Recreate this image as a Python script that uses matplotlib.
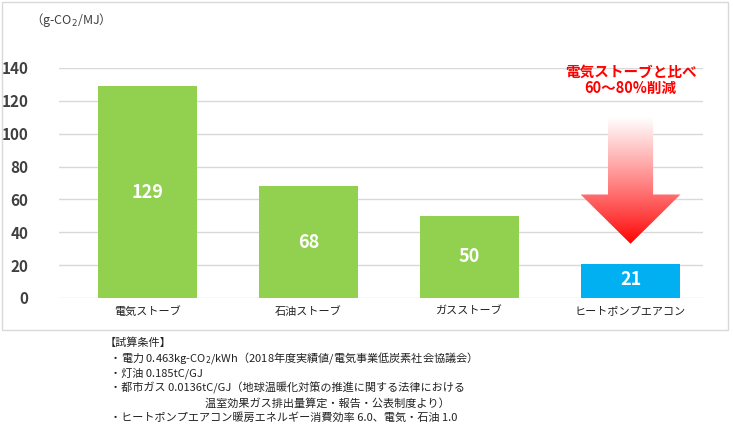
import matplotlib
matplotlib.use("Agg")
import matplotlib.pyplot as plt
import numpy as np
from matplotlib.patches import Polygon, Rectangle

plt.rcParams["font.family"] = ["Noto Sans CJK JP"]

# データ
categories = ["電気ストーブ", "石油ストーブ", "ガスストーブ", "ヒートポンプエアコン"]
values = [129, 68, 50, 21]
bar_colors = ["#92D050", "#92D050", "#92D050", "#00B0F0"]
y_ticks = [0, 20, 40, 60, 80, 100, 120, 140]

notes = [
    "【試算条件】",
    "  ・電力 0.463kg-CO$_2$/kWh（2018年度実績値/電気事業低炭素社会協議会）",
    "  ・灯油 0.185tC/GJ",
    "  ・都市ガス 0.0136tC/GJ（地球温暖化対策の推進に関する法律における",
    "                                        温室効果ガス排出量算定・報告・公表制度より）",
    "  ・ヒートポンプエアコン暖房エネルギー消費効率 6.0、電気・石油 1.0",
]

fig = plt.figure(figsize=(7.33, 4.42), dpi=100)
fig.patches.append(Rectangle((2 / 733, 1 - 330 / 442), 726 / 733, 328 / 442,
                             transform=fig.transFigure, fill=False,
                             edgecolor="#D9D9D9", lw=1))

ax = fig.add_axes([59 / 733, 1 - 298 / 442, 644 / 733, 230 / 442])
x = np.arange(len(categories))
ax.bar(x, values, width=0.62, color=bar_colors, zorder=3)
for xi, v in zip(x, values):
    ax.text(xi, v / 2 if v > 40 else v / 2 + 0.5, str(v), ha="center", va="center",
            color="white", fontsize=13, fontweight="bold", zorder=4)

ax.set_xlim(-0.55, 3.45)
ax.set_ylim(0, 140)
ax.set_yticks(y_ticks)
ax.set_yticklabels([str(t) for t in y_ticks], fontsize=11, fontweight="bold", color="#404040")
ax.set_xticks(x)
ax.set_xticklabels(categories, fontsize=8, color="#222222")
ax.grid(axis="y", color="#D9D9D9", lw=1, zorder=0)
for s in ax.spines.values():
    s.set_visible(False)
ax.tick_params(length=0, pad=6)
ax.tick_params(axis="y", pad=22)

fig.text(30 / 733, 1 - 20 / 442, "（g-CO$_2$/MJ）", fontsize=9, color="#404040",
         va="center", ha="left")

# グラデーション矢印
arrow_x = 3
hw, sw = 0.31, 0.14
top, neck, tip = 110, 63, 33
verts = [(arrow_x - sw, top), (arrow_x + sw, top), (arrow_x + sw, neck),
         (arrow_x + hw, neck), (arrow_x, tip), (arrow_x - hw, neck),
         (arrow_x - sw, neck)]
poly = Polygon(verts, closed=True, facecolor="none", edgecolor="none")
ax.add_patch(poly)
grad = np.linspace(0, 1, 256).reshape(-1, 1)
rgba = np.zeros((256, 1, 4))
rgba[..., 0] = 1.0
rgba[..., 1] = grad ** 0.9
rgba[..., 2] = grad ** 0.9
rgba[..., 3] = 1.0
im = ax.imshow(rgba, extent=(arrow_x - hw, arrow_x + hw, tip, top), origin="lower",
               aspect="auto", zorder=5)
im.set_clip_path(poly)

ax.text(arrow_x, 133, "電気ストーブと比べ\n60～80%削減", ha="center", va="center",
        color="#FF0000", fontsize=10.5, fontweight="bold", linespacing=1.0)

y0 = 1 - 343 / 442
for i, line in enumerate(notes):
    fig.text(105 / 733, y0 - i * 15 / 442, line, fontsize=8, color="#222222", va="center")

fig.savefig("out.png", dpi=100)
